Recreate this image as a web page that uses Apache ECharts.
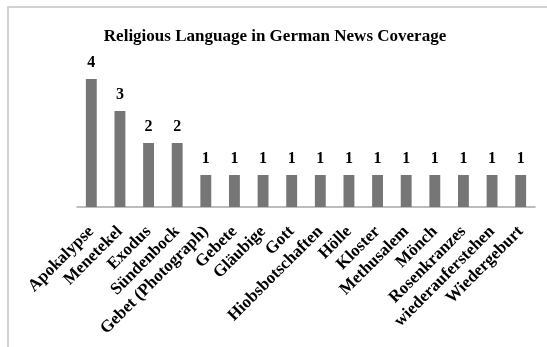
<!DOCTYPE html>
<html>
<head>
<meta charset="utf-8">
<script src="https://cdn.jsdelivr.net/npm/echarts@6/dist/echarts.min.js"></script>
<style>
  html, body { margin: 0; padding: 0; background: #fff; }
  #chart { width: 547px; height: 347px; }
</style>
</head>
<body>
<div id="chart"></div>
<script>
'use strict';

const categories = ['Apokalypse', 'Menetekel', 'Exodus', 'Sündenbock', 'Gebet (Photograph)', 'Gebete',
    'Gläubige', 'Gott', 'Hiobsbotschaften', 'Hölle', 'Kloster', 'Methusalem', 'Mönch',
    'Rosenkranzes', 'wiederauferstehen', 'Wiedergeburt'];
const counts = [4, 3, 2, 2, 1, 1, 1, 1, 1, 1, 1, 1, 1, 1, 1, 1];

const serif = '"Liberation Serif", "DejaVu Serif", serif';

const chart = echarts.init(document.getElementById('chart'));
chart.setOption({
    animation: false,
    title: {
        text: 'Religious Language in German News Coverage',
        left: 270,
        textAlign: 'center',
        top: 23,
        textStyle: { fontFamily: serif, fontSize: 17, fontWeight: 'bold', color: '#000' },
    },
    graphic: [{
        type: 'polyline',
        shape: { points: [[8, 347], [8, 7], [547, 7]] },
        style: { stroke: '#c4c4c4', lineWidth: 1.5, fill: null },
        silent: true,
    }],
    grid: { left: 77, right: 12, top: 79, bottom: 140 },
    xAxis: {
        type: 'category',
        data: categories,
        axisLine: { lineStyle: { color: '#a8a8a8', width: 1.5 } },
        axisTick: { show: false },
        axisLabel: {
            interval: 0,
            rotate: 45,
            margin: 22,
            fontFamily: serif,
            fontSize: 17,
            fontWeight: 'bold',
            color: '#000',
        },
    },
    yAxis: {
        type: 'value',
        min: 0,
        max: 4,
        show: false,
        splitLine: { show: false },
    },
    series: [{
        type: 'bar',
        data: counts,
        barWidth: '38%',
        itemStyle: { color: '#767676' },
        label: {
            show: true,
            position: 'top',
            distance: 8,
            fontFamily: serif,
            fontSize: 16,
            fontWeight: 'bold',
            color: '#000',
        },
    }],
});
</script>
</body>
</html>
